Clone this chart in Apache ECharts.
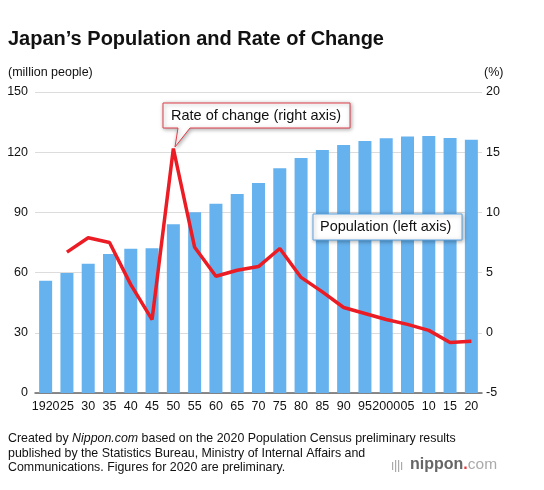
<!DOCTYPE html>
<html>
<head>
<meta charset="utf-8">
<script src="https://cdn.jsdelivr.net/npm/echarts@6/dist/echarts.min.js"></script>
<style>
  html, body { margin: 0; padding: 0; background: #fff; }
  #container { width: 544px; height: 490px; }
</style>
</head>
<body>
<div id="container"></div>
<script>
var years = ['1920', '25', '30', '35', '40', '45', '50', '55', '60', '65', '70',
    '75', '80', '85', '90', '95', '2000', '05', '10', '15', '20'];
// million people
var population = [55.96, 59.74, 64.45, 69.25, 71.93, 72.15, 84.12, 90.08, 94.30, 99.21, 104.67,
    111.94, 117.06, 121.05, 123.61, 125.57, 126.93, 127.77, 128.06, 127.09, 126.23];
// %
var rate = [null, 6.7, 7.9, 7.5, 4.0, 1.1, 15.3, 7.1, 4.7, 5.2, 5.5,
    7.0, 4.6, 3.4, 2.1, 1.6, 1.1, 0.7, 0.2, -0.8, -0.7];

var FONT = '"Liberation Sans", Arial, sans-serif';

var myChart = echarts.init(document.getElementById('container'));
var option = {
    animation: false,
    textStyle: { fontFamily: FONT },
    grid: { left: 35, right: 62, top: 92, bottom: 97 },
    xAxis: {
        type: 'category',
        data: years,
        axisTick: { show: false },
        axisLine: { lineStyle: { color: '#666', width: 1.5 } },
        axisLabel: { color: '#111', fontSize: 12.5, margin: 7, interval: 0, fontFamily: FONT }
    },
    yAxis: [
        {
            type: 'value', min: 0, max: 150, interval: 30,
            axisLabel: { color: '#111', fontSize: 12.5, margin: 7, fontFamily: FONT },
            splitLine: { lineStyle: { color: '#dcdcdc' } },
            axisLine: { show: false }, axisTick: { show: false }
        },
        {
            type: 'value', min: -5, max: 20, interval: 5,
            axisLabel: { color: '#111', fontSize: 12.5, margin: 4, fontFamily: FONT },
            splitLine: { show: false },
            axisLine: { show: false }, axisTick: { show: false }
        }
    ],
    series: [
        {
            name: 'Population',
            type: 'bar',
            data: population,
            barWidth: 13,
            itemStyle: { color: '#66b2ee' }
        },
        {
            name: 'Rate of change',
            type: 'line',
            yAxisIndex: 1,
            data: rate,
            showSymbol: false,
            symbol: 'none',
            lineStyle: { color: '#ec1c24', width: 3.5 },
            z: 5
        }
    ],
    graphic: [
        {
            type: 'text', left: 8, top: 29,
            style: { text: 'Japan’s Population and Rate of Change', font: 'bold 20px ' + FONT, fill: '#111' }
        },
        {
            type: 'text', left: 8, top: 66,
            style: { text: '(million people)', font: '12.5px ' + FONT, fill: '#111' }
        },
        {
            type: 'text', left: 484, top: 66,
            style: { text: '(%)', font: '12.5px ' + FONT, fill: '#111' }
        },
        // Rate of change callout
        {
            type: 'polygon', z: 20,
            shape: { points: [[163, 103], [350, 103], [350, 128], [190, 128], [175, 147], [178, 128], [163, 128]] },
            style: { fill: '#fff', stroke: '#e0404a', lineWidth: 1, shadowBlur: 4, shadowColor: 'rgba(0,0,0,0.35)', shadowOffsetX: 1, shadowOffsetY: 1 }
        },
        {
            type: 'text', left: 171, top: 108, z: 21,
            style: { text: 'Rate of change (right axis)', font: '14.5px ' + FONT, fill: '#111' }
        },
        // Population callout
        {
            type: 'rect', z: 20,
            shape: { x: 313, y: 214, width: 149, height: 26 },
            style: { fill: '#fff', stroke: '#5aa5e6', lineWidth: 1, shadowBlur: 4, shadowColor: 'rgba(0,0,0,0.35)', shadowOffsetX: 1, shadowOffsetY: 1 }
        },
        {
            type: 'text', left: 320, top: 219, z: 21,
            style: { text: 'Population (left axis)', font: '14.5px ' + FONT, fill: '#111' }
        },
        // footer
        {
            type: 'text', left: 8, top: 433,
            style: {
                text: '{n|Created by }{i|Nippon.com}{n| based on the 2020 Population Census preliminary results}\n' +
                    '{n|published by the Statistics Bureau, Ministry of Internal Affairs and}\n' +
                    '{n|Communications. Figures for 2020 are preliminary.}',
                rich: {
                    n: { font: '12.4px ' + FONT, fill: '#111', lineHeight: 14.5 },
                    i: { font: 'italic 12.4px ' + FONT, fill: '#111', lineHeight: 14.5 }
                }
            }
        },
        // logo
        { type: 'rect', shape: { x: 392, y: 462, width: 1.2, height: 8 }, style: { fill: '#aaa' } },
        { type: 'rect', shape: { x: 395, y: 460, width: 1.2, height: 12 }, style: { fill: '#aaa' } },
        { type: 'rect', shape: { x: 398, y: 460, width: 1.2, height: 12 }, style: { fill: '#aaa' } },
        { type: 'rect', shape: { x: 401, y: 462, width: 1.2, height: 8 }, style: { fill: '#aaa' } },
        {
            type: 'text', left: 410, top: 457,
            style: {
                text: '{a|nippon}{b|.}{c|com}',
                rich: {
                    a: { font: 'bold 16px ' + FONT, fill: '#666' },
                    b: { font: 'bold 16px ' + FONT, fill: '#e8383d' },
                    c: { font: '15.5px ' + FONT, fill: '#aaa' }
                }
            }
        }
    ]
};
myChart.setOption(option);
</script>
</body>
</html>
